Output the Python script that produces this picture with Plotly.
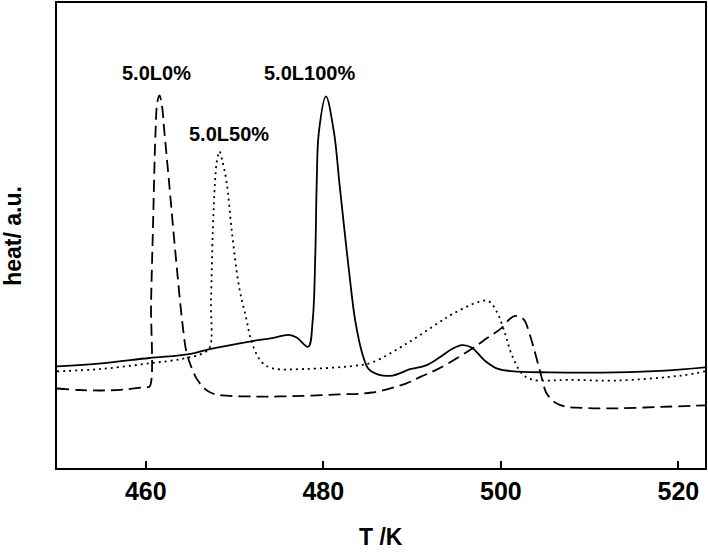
import plotly.graph_objects as go

# 5.0L0% (dashed)
t_l0 = [450.0, 452.5, 455.0, 457.5, 460.0, 460.43, 460.6, 460.8, 461.1, 461.3, 461.54, 461.8, 462.1,
        462.6, 463.1, 463.6, 464.1, 464.6, 465.2, 465.66, 466.3, 466.9, 467.7, 468.6, 471.6, 475.0, 481.8,
        485.5, 489.3, 491.0, 493.0, 496.4, 498.5, 500.1, 501.0, 501.6, 502.2, 502.7, 503.2, 503.7,
        504.4, 505.1, 505.6, 506.1, 507.2, 509.0, 512.9, 518.0, 523.0]
h_l0 = [80, 78.5, 78, 79, 81.5, 82, 168, 238, 338, 368, 375, 366, 338,
        290, 240, 192, 148, 116, 100, 91, 83, 78, 74.5, 73, 72, 72, 74,
        76, 85, 92, 100, 118, 131, 141, 150, 153, 152, 148, 136, 121,
        98, 76, 70, 66, 62, 60.5, 60, 61.5, 63]

# 5.0L50% (dotted)
t_l50 = [450.0, 455.0, 460.4, 464.0, 466.4, 467.2, 467.35, 467.55, 467.8, 468.0, 468.3, 468.6, 469.1,
         469.7, 470.5, 471.3, 472.0, 473.1, 474.3, 478.0, 483.6, 485.5, 489.3, 493.0, 494.5, 497.5,
         498.6, 499.5, 500.5, 501.2, 502.4, 503.5, 505.4, 507.6, 512.9, 520.3, 523.0]
h_l50 = [97.3, 99.7, 105.3, 109.7, 115.3, 121.3, 168, 238, 288, 308, 318.7, 310, 288,
         238, 183, 151.3, 124.7, 106.3, 100.3, 99.7, 103, 106.3, 124.7, 146.3, 154.7, 167.3,
         168, 158, 134.7, 114.7, 94.7, 89, 88, 88.7, 88, 93, 97.3]

# 5.0L100% (solid)
t_l100 = [450.0, 455.0, 460.4, 464.9, 467.2, 471.7, 474.2, 476.1, 477.0, 478.3, 478.8, 479.1, 479.26,
          479.5, 480.3, 481.2, 481.8, 482.4, 482.9, 483.6, 484.4, 485.1, 486.3, 487.8, 488.9, 489.6,
          491.5, 493.0, 494.5, 495.6, 496.7, 498.2, 499.7, 502.0, 505.4, 512.9, 518.5, 523.0]
h_l100 = [102.3, 105.3, 110.7, 114.7, 119.7, 127.3, 130.7, 134, 131.3, 122, 148, 214.7, 288,
          338, 374, 338, 288, 238, 198, 148, 115, 99.7, 93.7, 93, 96.3, 99,
          103, 110.7, 119.7, 123.7, 121.3, 108, 99.7, 97, 96.3, 96.3, 98, 101.3]

labels = ["5.0L0%", "5.0L50%", "5.0L100%"]
label_t = [461.2, 469.35, 478.5]
label_h = [398, 336, 398]

tick_vals = [460, 480, 500, 520]
tick_text = ["460", "480", "500", "520"]

FONT = "Liberation Sans, Arial, sans-serif"

fig = go.Figure()
fig.add_trace(go.Scatter(x=t_l0, y=h_l0, mode="lines", line=dict(color="black", width=1.8, dash="12px,6px"),
                         line_shape="spline", showlegend=False))
fig.add_trace(go.Scatter(x=t_l50, y=h_l50, mode="lines", line=dict(color="black", width=1.8, dash="2px,4px"),
                         line_shape="spline", showlegend=False))
fig.add_trace(go.Scatter(x=t_l100, y=h_l100, mode="lines", line=dict(color="black", width=1.8),
                         line_shape="spline", showlegend=False))

for txt, tx, hy in zip(labels, label_t, label_h):
    fig.add_annotation(x=tx, y=hy, text=txt, showarrow=False, xanchor="center", yanchor="middle",
                       font=dict(family=FONT, size=20, color="black", weight="bold"))

fig.add_annotation(xref="paper", yref="paper", x=-0.069, y=0.5, text="heat/ a.u.", textangle=-90,
                   showarrow=False, xanchor="center", yanchor="middle",
                   font=dict(family=FONT, size=23, color="black", weight="bold"))
fig.add_annotation(xref="paper", yref="paper", x=0.5, y=0, yshift=-69, text="T /K",
                   showarrow=False, xanchor="center", yanchor="middle",
                   font=dict(family=FONT, size=23, color="black", weight="bold"))

fig.update_xaxes(range=[450, 523], tickvals=tick_vals, ticktext=tick_text, ticks="inside", ticklen=7,
                 tickwidth=2, tickcolor="black", showline=True, linecolor="black", linewidth=2,
                 mirror=True, showgrid=False, zeroline=False,
                 tickfont=dict(family=FONT, size=25, color="black", weight="bold"))
fig.update_yaxes(range=[0, 468], showticklabels=False, ticks="", showline=True, linecolor="black",
                 linewidth=2, mirror=True, showgrid=False, zeroline=False)

fig.update_layout(width=708, height=552, margin=dict(l=57, r=1, t=1, b=84),
                  plot_bgcolor="white", paper_bgcolor="white")

fig.write_html("out.html", config={"displayModeBar": False},
               post_script="document.body.style.margin='0';document.body.style.padding='0';"
                           "document.body.style.overflow='hidden';")
